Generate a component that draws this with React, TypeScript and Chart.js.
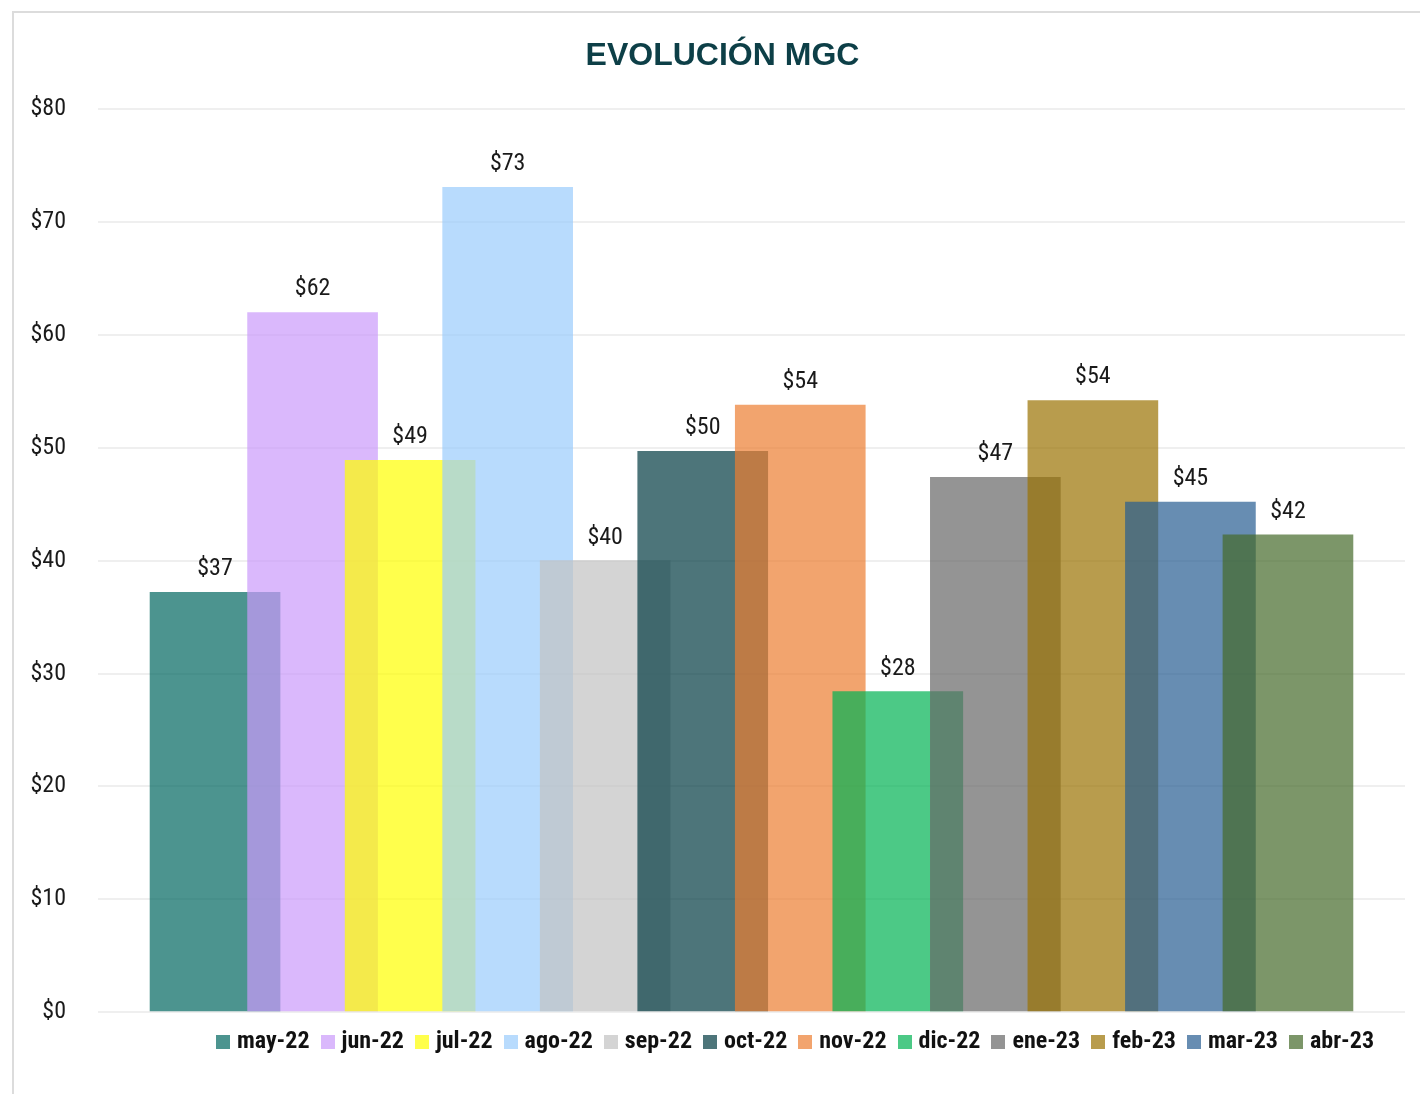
import React, { useEffect, useRef } from 'react';
import { Chart, registerables } from 'chart.js';

Chart.register(...registerables);

// ---- data ----
const categories = ['may-22', 'jun-22', 'jul-22', 'ago-22', 'sep-22', 'oct-22', 'nov-22', 'dic-22', 'ene-23', 'feb-23', 'mar-23', 'abr-23'];
const values = [37.2, 62.0, 48.9, 73.1, 40.0, 49.7, 53.8, 28.4, 47.4, 54.2, 45.2, 42.3];
const baseColors = [
  '0,102,96', '202,154,251', '255,255,0', '154,204,252', '194,194,194', '2,59,66',
  '236,126,49', '0,178,82', '102,102,102', '154,114,2', '38,92,146', '68,105,41',
];
const yTickValues = [0, 10, 20, 30, 40, 50, 60, 70, 80];
const titleText = 'EVOLUCIÓN MGC';

const ALPHA = 0.7;
const NARROW = '"Liberation Sans Narrow", "Arial Narrow", "Roboto Condensed", "Liberation Sans", sans-serif';
const TITLE_FONT = '"Liberation Sans", Arial, sans-serif';
const TITLE_SHIFT = 13;
const LEGEND_SHIFT = 88;
const LEGEND_DY = 2;

const colorOf = (i: number) => `rgba(${baseColors[i]},${ALPHA})`;

function makeSwatch(color: string): HTMLCanvasElement {
  const c = document.createElement('canvas');
  c.width = 14;
  c.height = 14;
  const g = c.getContext('2d')!;
  g.fillStyle = color;
  g.fillRect(0, 0, 14, 14);
  return c;
}

const shiftPlugin = {
  id: 'shiftBoxes',
  beforeDraw(chart: any) {
    const t = chart.titleBlock;
    if (t && !t._shifted) {
      t.left += TITLE_SHIFT;
      t.right += TITLE_SHIFT;
      t._shifted = true;
    }
    const l = chart.legend;
    if (l && !l._shifted) {
      l.left += LEGEND_SHIFT;
      l.right += LEGEND_SHIFT;
      l.top += LEGEND_DY;
      l.bottom += LEGEND_DY;
      l._shifted = true;
    }
  },
};

const dataLabelPlugin = {
  id: 'dataLabels',
  afterDatasetsDraw(chart: any) {
    const ctx = chart.ctx;
    ctx.save();
    ctx.font = `24px ${NARROW}`;
    ctx.fillStyle = '#1a1a1a';
    ctx.textAlign = 'center';
    ctx.textBaseline = 'alphabetic';
    chart.data.datasets.forEach((ds: any, i: number) => {
      const meta = chart.getDatasetMeta(i);
      meta.data.forEach((el: any, j: number) => {
        const raw = ds.data[j];
        const v = typeof raw === 'object' ? raw.y : raw;
        ctx.fillText('$' + Math.round(v), el.x, el.y - 17);
      });
    });
    ctx.restore();
  },
};

export default function App() {
  const ref = useRef<HTMLCanvasElement | null>(null);

  useEffect(() => {
    if (!ref.current) return;
    const swatches = categories.map((_, i) => makeSwatch(colorOf(i)));
    const chart = new Chart(ref.current, {
      type: 'bar',
      data: {
        datasets: categories.map((name, i) => ({
          label: name,
          data: [{ x: i, y: values[i] }],
          backgroundColor: colorOf(i),
          borderWidth: 0,
          barThickness: 130,
          grouped: false,
          order: categories.length - i,
        })),
      },
      options: {
        animation: false,
        responsive: true,
        maintainAspectRatio: false,
        layout: { padding: { left: 0, right: 15, top: 0, bottom: 32 } },
        scales: {
          x: {
            type: 'linear',
            display: false,
            min: -1.2,
            max: 12.2,
            offset: false,
            grid: { display: false },
          },
          y: {
            min: 0,
            max: 80,
            afterFit: (scale: any) => {
              scale.width = 84;
            },
            afterBuildTicks: (scale: any) => {
              scale.ticks = yTickValues.map((v) => ({ value: v }));
            },
            border: { display: false },
            grid: { color: '#efefef', lineWidth: 2, drawTicks: false },
            ticks: {
              padding: 32,
              color: '#1a1a1a',
              font: { family: NARROW, size: 24 },
              callback: (v: any) => '$' + v,
            },
          },
        },
        plugins: {
          title: {
            display: true,
            text: titleText,
            color: '#0d3f47',
            font: { family: TITLE_FONT, size: 32, weight: 'bold' },
            padding: { top: 24, bottom: 34 },
          },
          legend: {
            position: 'bottom',
            labels: {
              usePointStyle: true,
              pointStyleWidth: 4,
              boxHeight: 14,
              padding: 16,
              color: '#111',
              font: { family: NARROW, size: 24, weight: 'bold' },
              sort: (a: any, b: any) => a.datasetIndex - b.datasetIndex,
              generateLabels: (ch: any) => {
                const items = (Chart.defaults.plugins.legend.labels as any).generateLabels(ch);
                return items.map((it: any) => ({
                  ...it,
                  pointStyle: swatches[it.datasetIndex],
                  lineWidth: 0,
                  strokeStyle: 'rgba(0,0,0,0)',
                }));
              },
            },
          },
          tooltip: { enabled: false },
        },
      } as any,
      plugins: [shiftPlugin, dataLabelPlugin],
    });
    return () => chart.destroy();
  }, []);

  return (
    <div
      style={{
        position: 'absolute',
        left: 12,
        top: 11,
        width: 1408,
        height: 1083,
        boxSizing: 'border-box',
        borderLeft: '2px solid #dcdcdc',
        borderTop: '2px solid #dcdcdc',
        background: '#fff',
      }}
    >
      <div style={{ position: 'relative', width: 1406, height: 1081 }}>
        <canvas ref={ref} />
      </div>
    </div>
  );
}
